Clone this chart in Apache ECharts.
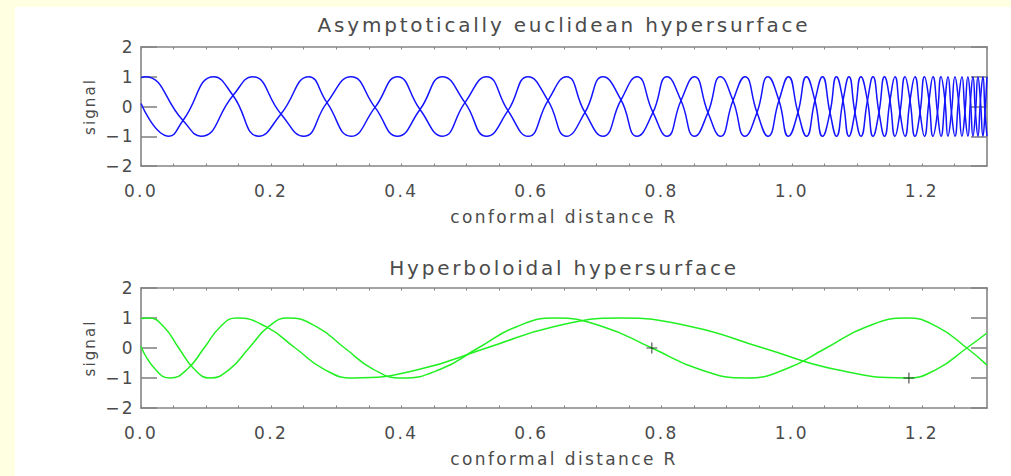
<!DOCTYPE html>
<html>
<head>
<meta charset="utf-8">
<title>Signals on two hypersurfaces</title>
<script src="https://cdn.jsdelivr.net/npm/echarts@6/dist/echarts.min.js"></script>
<style>
  html, body { margin: 0; padding: 0; background: #ffffe2; overflow: hidden; }
  #sheet { position: absolute; left: 15px; top: 7px; right: 0; bottom: 0; background: #ffffff; }
  #chart { position: absolute; left: 0; top: 0; width: 1011px; height: 476px; }
  /* wide, airy lettering of the plot labels */
  #chart svg text { letter-spacing: 0.14em; }
</style>
</head>
<body>
<div id="sheet"></div>
<div id="chart"></div>
<script>
// ---- shared axis ranges --------------------------------------------------
const xRange = [0, 1.3];
const yRange = [-2, 2];
const xLabelStep = 0.2;

// ---- asymptotically euclidean hypersurface: the two signal components ----
// [conformal distance R, signal]
const euclidA = [
  [0.000, 0.97], [0.006, 1.00], [0.0645, -0.47], [0.092, -1.00], [0.1414, 0.37],
  [0.171, 1.00], [0.2151, -0.25], [0.250, -1.00], [0.2858, 0.13], [0.3227, 1.00],
  [0.3596, -0.03], [0.3941, -1.00], [0.4287, -0.10], [0.4633, 1.00], [0.4978, 0.13],
  [0.5309, -1.00], [0.5639, -0.14], [0.5947, 1.00], [0.6254, 0.20], [0.6538, -1.00],
  [0.6822, -0.20], [0.7099, 1.00], [0.7376, 0.22], [0.7621, -1.00], [0.7867, -0.20],
  [0.8082, 1.00], [0.8298, 0.20], [0.8505, -1.00], [0.8712, -0.20], [0.8904, 1.00],
  [0.9097, 0.20], [0.9281, -1.00], [0.9466, -0.20], [0.9634, 1.00], [0.9803, 0.20],
  [0.9949, -1.00], [1.0095, -0.20], [1.0226, 1.00], [1.0356, 0.20], [1.0472, -1.00],
  [1.0587, -0.20], [1.0687, 1.00], [1.0787, 0.20], [1.0879, -1.00], [1.0971, -0.20],
  [1.1063, 1.00], [1.1163, 0.20], [1.1248, -1.00], [1.1340, -0.20], [1.1425, 1.00],
  [1.1509, 0.20], [1.1586, -1.00], [1.1663, -0.20], [1.1740, 1.00], [1.1817, 0.20],
  [1.1893, -1.00], [1.1971, -0.20], [1.2039, 1.00], [1.2109, 0.20], [1.2170, -1.00],
  [1.2239, -0.20], [1.2293, 1.00], [1.2354, 0.20], [1.2400, -1.00], [1.2454, -0.20],
  [1.2508, 1.00], [1.2562, 0.20], [1.2615, -1.00], [1.2661, -0.20], [1.2707, 1.00],
  [1.2746, 0.20], [1.2784, -1.00], [1.2823, -0.20], [1.2861, 1.00], [1.2899, 0.20],
  [1.2938, -1.00], [1.2969, -0.20], [1.3000, 1.00]
];
const euclidB = [
  [0.000, 0.10], [0.043, -1.00], [0.0645, -0.47], [0.112, 1.00], [0.1414, 0.37],
  [0.181, -1.00], [0.2151, -0.25], [0.258, 1.00], [0.2858, 0.13], [0.3227, -1.00],
  [0.3596, -0.03], [0.3941, 1.00], [0.4287, -0.10], [0.4633, -1.00], [0.4978, 0.13],
  [0.5309, 1.00], [0.5639, -0.14], [0.5947, -1.00], [0.6254, 0.20], [0.6538, 1.00],
  [0.6822, -0.20], [0.7099, -1.00], [0.7376, 0.22], [0.7621, 1.00], [0.7867, -0.20],
  [0.8082, -1.00], [0.8298, 0.20], [0.8505, 1.00], [0.8712, -0.20], [0.8904, -1.00],
  [0.9097, 0.20], [0.9281, 1.00], [0.9466, -0.20], [0.9634, -1.00], [0.9803, 0.20],
  [0.9949, 1.00], [1.0095, -0.20], [1.0226, -1.00], [1.0356, 0.20], [1.0472, 1.00],
  [1.0587, -0.20], [1.0687, -1.00], [1.0787, 0.20], [1.0879, 1.00], [1.0971, -0.20],
  [1.1063, -1.00], [1.1163, 0.20], [1.1248, 1.00], [1.1340, -0.20], [1.1425, -1.00],
  [1.1509, 0.20], [1.1586, 1.00], [1.1663, -0.20], [1.1740, -1.00], [1.1817, 0.20],
  [1.1893, 1.00], [1.1971, -0.20], [1.2039, -1.00], [1.2109, 0.20], [1.2170, 1.00],
  [1.2239, -0.20], [1.2293, -1.00], [1.2354, 0.20], [1.2400, 1.00], [1.2454, -0.20],
  [1.2508, -1.00], [1.2562, 0.20], [1.2615, 1.00], [1.2661, -0.20], [1.2707, -1.00],
  [1.2746, 0.20], [1.2784, 1.00], [1.2823, -0.20], [1.2861, -1.00], [1.2899, 0.20],
  [1.2938, 1.00], [1.2969, -0.20], [1.3000, -1.00]
];

// ---- hyperboloidal hypersurface ------------------------------------------
const hyperC = [
  [0.000, 0.98], [0.012, 1.00], [0.035, 0.71], [0.058, 0.00], [0.082, -0.71],
  [0.106, -1.00], [0.136, -0.71], [0.166, 0.00], [0.196, 0.71], [0.226, 1.00],
  [0.2695, 0.71], [0.313, 0.00], [0.357, -0.71], [0.401, -1.00], [0.460, -0.71],
  [0.518, 0.00], [0.577, 0.71], [0.636, 1.00], [0.710, 0.71], [0.785, 0.00],
  [0.858, -0.71], [0.930, -1.00], [0.990, -0.71], [1.053, 0.00], [1.115, 0.71],
  [1.177, 1.00], [1.223, 0.71], [1.269, 0.00], [1.300, -0.57]
];
const hyperD = [
  [0.000, 0.05], [0.022, -0.71], [0.045, -1.00], [0.071, -0.71], [0.097, 0.00],
  [0.122, 0.71], [0.147, 1.00], [0.192, 0.71], [0.237, 0.00], [0.2815, -0.71],
  [0.326, -1.00], [0.428, -0.71], [0.531, 0.00], [0.634, 0.71], [0.736, 1.00],
  [0.846, 0.71], [0.956, 0.00], [1.066, -0.71], [1.176, -1.00], [1.2225, -0.71],
  [1.269, 0.00], [1.300, 0.50]
];
const hyperMarks = [[0.785, 0.00], [1.180, -1.00]];

// ---- text ------------------------------------------------------------------
const titles = ['Asymptotically euclidean hypersurface', 'Hyperboloidal hypersurface'];
const xName = 'conformal distance R';
const yName = 'signal';

// ---- look --------------------------------------------------------------------
const FONT = 'DejaVu Sans';
const TEXT = '#4b4b4b';
const FRAME = '#858585';
const panels = [
  { top: 47, height: 119, titleY: 25, color: '#1414ff' },
  { top: 288, height: 120, titleY: 268, color: '#22f022' }
];

const chart = echarts.init(document.getElementById('chart'), null, { renderer: 'svg' });

const onGrid = v => Math.abs(v / xLabelStep - Math.round(v / xLabelStep)) < 1e-6;
const minus = v => String(v).replace('-', '\u2212');

const grid = [], xAxis = [], yAxis = [], series = [], graphic = [];
panels.forEach((p, i) => {
  grid.push({ left: 141, width: 846, top: p.top, height: p.height, containLabel: false });
  const line = { show: true, onZero: false, lineStyle: { color: FRAME, width: 1.6 } };
  const xBase = {
    type: 'value', gridIndex: i, min: xRange[0], max: xRange[1], interval: 0.05,
    axisLine: line, splitLine: { show: false },
    axisTick: { show: true, inside: true, length: 2.5, lineStyle: { color: FRAME, width: 1 } }
  };
  xAxis.push(Object.assign({}, xBase, {
    position: 'bottom',
    axisLabel: {
      show: true, margin: 16, color: TEXT, fontFamily: FONT, fontSize: 17,
      showMaxLabel: false, formatter: v => onGrid(v) ? v.toFixed(1) : ''
    },
    name: xName, nameLocation: 'middle', nameGap: 42,
    nameTextStyle: { color: TEXT, fontFamily: FONT, fontSize: 17 }
  }));
  xAxis.push(Object.assign({}, xBase, { position: 'top', axisLabel: { show: false } }));
  const yBase = {
    type: 'value', gridIndex: i, min: yRange[0], max: yRange[1], interval: 1,
    axisLine: line, splitLine: { show: false },
    axisTick: { show: true, inside: true, length: 16, lineStyle: { color: FRAME, width: 1.6 } }
  };
  yAxis.push(Object.assign({}, yBase, {
    position: 'left',
    axisLabel: { show: true, margin: 6, color: TEXT, fontFamily: FONT, fontSize: 17, formatter: minus },
    name: yName, nameLocation: 'middle', nameGap: 44, nameRotate: 90,
    nameTextStyle: { color: TEXT, fontFamily: FONT, fontSize: 15 }
  }));
  yAxis.push(Object.assign({}, yBase, { position: 'right', axisLabel: { show: false } }));

  graphic.push({
    type: 'text', x: 564, y: p.titleY, silent: true,
    style: {
      text: titles[i], fill: TEXT, font: '20px "' + FONT + '"',
      align: 'center', verticalAlign: 'middle', textAlign: 'center', textVerticalAlign: 'middle'
    }
  });
});

const curve = (data, gi, color) => ({
  type: 'line', xAxisIndex: gi * 2, yAxisIndex: gi * 2, data,
  showSymbol: false, smooth: 0.5, animation: false, silent: true,
  lineStyle: { color, width: 1.5 }, z: 3
});
series.push(curve(euclidA, 0, panels[0].color));
series.push(curve(euclidB, 0, panels[0].color));
series.push(curve(hyperC, 1, panels[1].color));
series.push(curve(hyperD, 1, panels[1].color));
series.push({
  type: 'scatter', xAxisIndex: 2, yAxisIndex: 2, data: hyperMarks, silent: true,
  symbol: 'path://M0,4.5H10V5.5H0Z M4.5,0H5.5V10H4.5Z', symbolSize: 11,
  itemStyle: { color: '#1a1a1a' }, z: 5, animation: false
});

chart.setOption({
  animation: false,
  backgroundColor: 'transparent',
  grid, xAxis, yAxis, series, graphic
});
</script>
</body>
</html>
